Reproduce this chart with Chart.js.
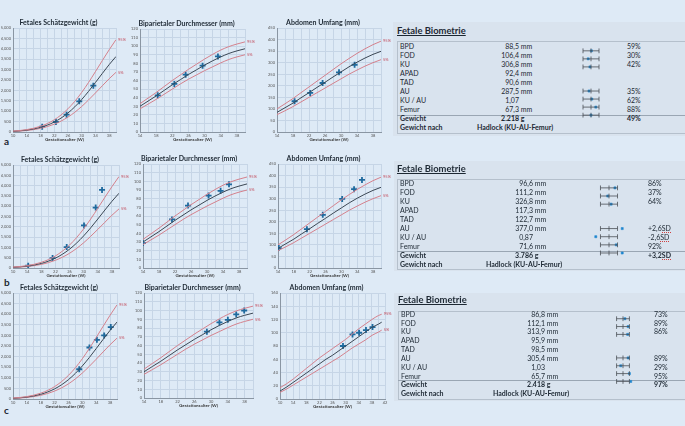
<!DOCTYPE html>
<html>
<head>
<meta charset="utf-8">
<script src="https://cdn.jsdelivr.net/npm/chart.js@4/dist/chart.umd.min.js"></script>
<style>
  body { margin: 0; width: 685px; height: 426px; background: #deeaf6; position: relative; overflow: hidden;
         font-family: Lato, "Open Sans", sans-serif; color: #1d2833; }
  canvas { position: absolute; }
  .tag { position: absolute; font: bold 10px Lato, sans-serif; color: #1d2833; }
  .panel { position: absolute; background: #d9e3ee; }
  .ptitle { position: absolute; font: bold 9.4px Lato, sans-serif; text-decoration: underline; white-space: nowrap; }
  .box { position: absolute; border: 1px solid #b5c0cc; border-right: none; box-sizing: border-box; }
  .sep { position: absolute; height: 0; border-top: 1px solid #9aa6b3; }
  .cell { position: absolute; font-size: 7px; line-height: 9px; white-space: nowrap; }
  .b { font-weight: bold; }
  .sd { border-bottom: 1px dotted #d04040; }
</style>
</head>
<body>
<div class="tag" style="left:4px;top:135px">a</div>
<div class="tag" style="left:4px;top:276px">b</div>
<div class="tag" style="left:4px;top:404px">c</div>
<script>
// reference curves (95%, 50%, 5%)
const efwWeeks = [10, 12, 14, 16, 18, 20, 22, 24, 26, 28, 30, 32, 34, 36, 38, 40];
const efw95 = [45, 72, 115, 180, 275, 405, 585, 820, 1115, 1475, 1900, 2380, 2900, 3430, 3950, 4440];
const efw50 = [35, 58, 93, 146, 222, 331, 478, 670, 913, 1210, 1559, 1953, 2377, 2813, 3238, 3630];
const efw5 = [28, 45, 72, 114, 173, 260, 375, 525, 715, 950, 1225, 1540, 1875, 2220, 2560, 2870];

const bpdWeeks = [14, 16, 18, 20, 22, 24, 26, 28, 30, 32, 34, 36, 38, 40];
const bpd95 = [33, 39.5, 46, 53, 60, 66.5, 73, 79, 85, 90.5, 95.5, 99.5, 102.5, 105];
const bpd50 = [30, 36, 42, 48.5, 55, 61, 67, 72.5, 78, 83, 87.5, 91.5, 94.5, 97];
const bpd5 = [27, 32.5, 38, 44, 50, 56, 61.5, 66.5, 71.5, 76, 80.5, 84.5, 87.5, 90];

const auWeeks = [14, 16, 18, 20, 22, 24, 26, 28, 30, 32, 34, 36, 38, 40];
const au95 = [100, 122, 145, 170, 195, 220, 245, 270, 295, 318, 340, 360, 378, 393];
const au50 = [85, 105, 125, 148, 170, 193, 215, 238, 260, 282, 302, 320, 336, 349];
const au5 = [75, 92, 110, 130, 150, 170, 190, 210, 230, 250, 268, 285, 300, 313];

const auCWeeks = [10, 12, 14, 16, 18, 20, 22, 24, 26, 28, 30, 32, 34, 36, 38, 40, 41];
const auC95 = [17, 23, 30, 38, 46, 54, 62, 69, 76, 83, 90, 98, 106, 113, 120, 126, 128];
const auC50 = [12, 18, 25, 32, 39, 46, 53, 60, 66, 73, 80, 87, 94, 101, 108, 113, 116];
const auC5 = [10, 15, 21, 27, 33, 39, 45, 51, 57, 63, 70, 77, 83, 89, 96, 101, 104];

// measured points
const efwWeeksA = [18.5, 22.5, 25.6, 29.3, 33.4];
const efwValsA = [256, 480, 833, 1474, 2228];
const bpdWeeksA = [18.4, 22.5, 25.3, 29.5, 33.3];
const bpdValsA = [42.7, 56, 66.8, 77.3, 88];
const auWeeksA = [18.4, 22.3, 25.4, 29.5, 33.4];
const auValsA = [133, 169, 212, 258, 291];

const efwWeeksB = [14.3, 21.2, 25.2, 30.1, 33.4, 35.2];
const efwValsB = [113, 484, 1016, 2065, 2935, 3790];
const bpdWeeksB = [14, 21.25, 25.25, 30.4, 33.4, 35.5];
const bpdValsB = [28.8, 56, 72, 83.6, 89, 96.6];
const auWeeksB = [14.2, 21.3, 25.3, 30.2, 33.2, 35.2];
const auValsB = [86, 168, 230, 299, 341, 381];

const efwWeeksC = [29.1, 32.05, 34.2, 36.3, 38.2];
const efwValsC = [1404, 2429, 2792, 2997, 3391];
const bpdWeeksC = [29, 32, 34, 36, 37.9];
const bpdValsC = [75.8, 86.4, 89.4, 95.5, 100];
const auWeeksC = [29.2, 32.1, 34.1, 36.2, 38.2];
const auValsC = [80, 97.5, 100, 104, 108.5];

// table
const bioLabels = ["BPD", "FOD", "KU", "APAD", "TAD", "AU", "KU / AU", "Femur", "Gewicht", "Gewicht nach"];
const bioUnits = ["mm", "mm", "mm", "mm", "mm", "mm", "", "mm", "g", ""];
const valsA = ["88,5", "106,4", "306,8", "92,4", "90,6", "287,5", "1,07", "67,3", "2.218"];
const pctA = ["59%", "30%", "42%", "", "", "35%", "62%", "88%", "49%"];
const markA = [0.05, -0.35, -0.13, null, null, -0.25, 0.1, 0.6, 0];
const valsB = ["96,6", "111,2", "326,8", "117,3", "122,7", "377,0", "0,87", "71,6", "3.786"];
const pctB = ["86%", "37%", "64%", "", "", "+2,6SD", "-2,6SD", "92%", "+3,2SD"];
const markB = [0.7, -0.15, 0.25, null, null, 1.55, -1.55, 0.85, 1.55];
const valsC = ["86,8", "112,1", "313,9", "95,9", "98,5", "305,4", "1,03", "65,7", "2.418"];
const pctC = ["73%", "89%", "86%", "", "", "89%", "29%", "95%", "97%"];
const markC = [0.3, 0.8, 0.73, null, null, 0.8, -0.35, 1.0, 1.2];
const methodText = "Hadlock (KU-AU-Femur)";

const FONT = "Lato";
const RED = "#d4808c";
const YW = 12, TOP = 12, RIGHT = 14, XH = 10;

const pts = (xs, ys) => xs.map((x, i) => ({ x, y: ys[i] }));

const pctLabels = {
  id: "pctLabels",
  afterDatasetsDraw(chart) {
    const { ctx } = chart;
    ctx.save();
    ctx.font = `4px ${FONT}`;
    ctx.fillStyle = "#c24e5e";
    ctx.textBaseline = "middle";
    [[0, "95%"], [2, "5%"]].forEach(([di, txt]) => {
      const els = chart.getDatasetMeta(di).data;
      const p = els[els.length - 1];
      ctx.fillText(txt, p.x + 2, p.y);
    });
    ctx.restore();
  },
};

const addCanvas = (left, top, width, height) => {
  const c = document.createElement("canvas");
  c.width = Math.round(width);
  c.height = Math.round(height);
  c.style.left = left + "px";
  c.style.top = top + "px";
  document.body.appendChild(c);
  return c;
};

const curveChart = (title, box, xr, yr, ref, meas) => {
  const c = addCanvas(box.l - YW, box.t - TOP, box.r - box.l + YW + RIGHT, box.b - box.t + TOP + XH);
  const line = (data, color) => ({
    data, borderColor: color, borderWidth: 1, pointRadius: 0, cubicInterpolationMode: "monotone",
  });
  new Chart(c, {
    type: "line",
    data: {
      datasets: [
        line(pts(ref.w, ref.hi), RED),
        line(pts(ref.w, ref.mid), "#3b4754"),
        line(pts(ref.w, ref.lo), RED),
        {
          type: "scatter", data: pts(meas.w, meas.v), pointStyle: "cross", pointRadius: 3,
          borderWidth: 1.8, borderColor: "#1f6a9e", showLine: false,
        },
      ],
    },
    options: {
      responsive: false,
      animation: false,
      events: [],
      layout: { padding: { top: TOP - 9.4, right: RIGHT, left: 0, bottom: 0 } },
      plugins: {
        legend: { display: false },
        tooltip: { enabled: false },
        title: {
          display: true, text: title, color: "#1d2833",
          font: { family: FONT, size: 7, weight: "bold" }, padding: { top: 0, bottom: 1 },
        },
      },
      scales: {
        x: {
          type: "linear", min: xr[0], max: xr[1],
          afterFit: (s) => { s.height = XH; },
          ticks: {
            stepSize: 2, autoSkip: false, maxRotation: 0, padding: 1.5, color: "#555",
            font: { family: FONT, size: 4 }, callback: (v) => (v % 4 === 2 ? v : ""),
          },
          grid: { color: "#c6d5e6", drawTicks: false },
          border: { color: "#8a96a3" },
          title: {
            display: true, text: "Gestationsalter (W)", color: "#333",
            font: { family: FONT, size: 4.5, weight: "bold" }, padding: 0,
          },
        },
        y: {
          min: 0, max: yr[0],
          afterFit: (s) => { s.width = YW; },
          ticks: { stepSize: yr[1], padding: 2, color: "#555", font: { family: FONT, size: 4 } },
          grid: { color: "#c6d5e6", drawTicks: false },
          border: { color: "#8a96a3" },
        },
      },
    },
    plugins: [pctLabels],
  });
};

const efwRef = { w: efwWeeks, hi: efw95, mid: efw50, lo: efw5 };
const bpdRef = { w: bpdWeeks, hi: bpd95, mid: bpd50, lo: bpd5 };
const auRef = { w: auWeeks, hi: au95, mid: au50, lo: au5 };
const auCRef = { w: auCWeeks, hi: auC95, mid: auC50, lo: auC5 };

const buildTable = (g, vals, pcts, marks) => {
  const add = (cls, css, html) => {
    const d = document.createElement("div");
    d.className = cls;
    Object.assign(d.style, css);
    if (html !== undefined) d.innerHTML = html;
    document.body.appendChild(d);
    return d;
  };
  add("panel", { left: g.panelL + "px", top: g.panelT + "px", width: 685 - g.panelL + "px", height: g.panelB - g.panelT + "px" });
  add("ptitle", { left: g.titleX + "px", top: g.titleY - 6.5 + "px" }, "Fetale Biometrie");
  add("box", { left: g.boxL + "px", top: g.boxT + "px", width: 685 - g.boxL + "px", height: g.boxB - g.boxT + "px" });
  add("sep", { left: g.boxL + "px", top: g.sepY + "px", width: 685 - g.boxL + "px" });
  bioLabels.forEach((lab, i) => {
    const top = g.row0 + i * g.rowH - 4.5;
    const bold = i >= 8 ? " b" : "";
    add("cell" + bold, { left: g.boxL + 3 + "px", top: top + "px" }, lab);
    if (i === 9) {
      add("cell b", { left: g.naX + "px", top: top + "px" }, methodText);
      return;
    }
    add("cell" + bold, { right: 685 - g.numR + "px", top: top + "px" }, vals[i]);
    if (bioUnits[i]) add("cell" + bold, { left: g.numR + 1.8 + "px", top: top + "px" }, bioUnits[i]);
    if (pcts[i]) {
      const txt = pcts[i].replace("SD", '<span class="sd">SD</span>');
      add("cell" + bold, { left: g.pctX + "px", top: top + "px" }, txt);
    }
  });

  // range indicators
  const span = g.wR - g.wL;
  const cx = (g.wL + g.wR) / 2;
  const c = addCanvas(cx - span * 0.95, g.row0 - g.rowH / 2, span * 1.9, g.rowH * 10);
  const rows = marks.map((m, i) => (m === null ? null : i)).filter((i) => i !== null);
  const whiskers = rows.map((i) => ({
    data: [{ x: -1, y: i }, { x: 0, y: i }, { x: 1, y: i }],
    showLine: true, borderColor: "#4a4f55", borderWidth: 0.8,
    pointStyle: "line", rotation: 90, pointRadius: 2.4, pointBorderWidth: 0.8, pointBorderColor: "#4a4f55",
  }));
  new Chart(c, {
    type: "scatter",
    data: {
      datasets: [
        ...whiskers,
        {
          data: rows.map((i) => ({ x: marks[i], y: i })), pointStyle: "rect", pointRadius: 1.5,
          backgroundColor: "#1e86cf", borderColor: "#1e86cf", borderWidth: 0.5,
        },
      ],
    },
    options: {
      responsive: false, animation: false, events: [], clip: false,
      layout: { padding: 0 },
      plugins: { legend: { display: false }, tooltip: { enabled: false } },
      scales: {
        x: { type: "linear", min: -1.9, max: 1.9, display: false },
        y: { type: "linear", min: -0.5, max: 9.5, reverse: true, display: false },
      },
    },
  });
};

window.addEventListener("DOMContentLoaded", () => {
  curveChart("Fetales Schätzgewicht (g)", { l: 13, t: 28, r: 116, b: 132 }, [10, 40], [5000, 500], efwRef, { w: efwWeeksA, v: efwValsA });
  curveChart("Biparietaler Durchmesser (mm)", { l: 140, t: 29, r: 245, b: 132 }, [14, 40], [120, 10], bpdRef, { w: bpdWeeksA, v: bpdValsA });
  curveChart("Abdomen Umfang (mm)", { l: 277, t: 28, r: 381, b: 132 }, [14, 40], [450, 50], auRef, { w: auWeeksA, v: auValsA });

  curveChart("Fetales Schätzgewicht (g)", { l: 13, t: 165, r: 119, b: 268 }, [10, 40], [5000, 500], efwRef, { w: efwWeeksB, v: efwValsB });
  curveChart("Biparietaler Durchmesser (mm)", { l: 143, t: 164, r: 247, b: 268 }, [14, 40], [120, 10], bpdRef, { w: bpdWeeksB, v: bpdValsB });
  curveChart("Abdomen Umfang (mm)", { l: 278, t: 164, r: 381, b: 268 }, [14, 40], [450, 50], auRef, { w: auWeeksB, v: auValsB });

  curveChart("Fetales Schätzgewicht (g)", { l: 13, t: 293, r: 117, b: 399 }, [10, 40], [5000, 500], efwRef, { w: efwWeeksC, v: efwValsC });
  curveChart("Biparietaler Durchmesser (mm)", { l: 144, t: 293, r: 253, b: 398 }, [14, 40], [120, 10], bpdRef, { w: bpdWeeksC, v: bpdValsC });
  curveChart("Abdomen Umfang (mm)", { l: 280, t: 293, r: 385, b: 399 }, [10, 42], [160, 20], auCRef, { w: auWeeksC, v: auValsC });

  buildTable({ panelL: 393, panelT: 21.5, panelB: 136, titleX: 397, titleY: 31.5, boxL: 397, boxT: 40.5, boxB: 134,
    sepY: 114.5, row0: 46.7, rowH: 9, numR: 519, naX: 477, wL: 580, wR: 601, pctX: 627 }, valsA, pctA, markA);
  buildTable({ panelL: 394, panelT: 160.5, panelB: 271, titleX: 397, titleY: 169.5, boxL: 397, boxT: 179, boxB: 270,
    sepY: 251, row0: 183.3, rowH: 9.07, numR: 533, naX: 486, wL: 598, wR: 620, pctX: 648 }, valsB, pctB, markB);
  buildTable({ panelL: 394, panelT: 292.5, panelB: 401, titleX: 398, titleY: 300.5, boxL: 398, boxT: 310.5, boxB: 400,
    sepY: 380, row0: 314.3, rowH: 8.82, numR: 545, naX: 493, wL: 614, wR: 632, pctX: 654 }, valsC, pctC, markC);
});
</script>
</body>
</html>
